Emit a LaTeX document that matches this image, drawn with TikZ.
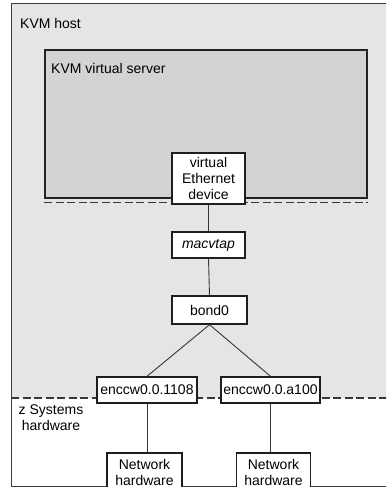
\documentclass[tikz,border=0pt]{standalone}
\usepackage{fontspec}
\setmainfont{Liberation Sans}
\begin{document}
\begin{tikzpicture}[x=1pt,y=-1pt,
  every node/.style={font=\fontsize{14}{16}\selectfont},
  hostfill/.style={fill={rgb,255:red,229;green,229;blue,231}},
  vsfill/.style={fill={rgb,255:red,210;green,211;blue,213}},
  frame/.style={draw={rgb,255:red,60;green,60;blue,60},line width=1pt},
  devbox/.style={draw={rgb,255:red,30;green,30;blue,30},line width=1.4pt,fill=white,
    inner sep=0pt,align=center},
  link/.style={draw={rgb,255:red,55;green,55;blue,55},line width=0.9pt},
  divider/.style={draw={rgb,255:red,55;green,55;blue,55},line width=1.6pt,
    dash pattern=on 8pt off 3.5pt},
  caption/.style={inner sep=0pt}]
\useasboundingbox (0,0) rectangle (386,487);
\clip (0,0) rectangle (386,487);

% KVM host area with the hardware strip below it
\fill[hostfill] (11,4) rectangle (392,398);
\fill[white] (11,398) rectangle (392,486);
\draw[frame] (11,4) rectangle (392,486);
\coordinate (hl) at (11,398);
\coordinate (hr) at (392,398);
\draw[divider] (hl) -- (hr);
\node[caption,anchor=base west] (host) at (20,29) {KVM host};
\node[caption,align=center] (zsys) at (51,417.5) {z Systems\\hardware};

% KVM virtual server
\node[vsfill,draw={rgb,255:red,35;green,35;blue,35},line width=1.6pt,
  minimum width=322pt,minimum height=148pt,inner sep=0pt] (vs) at (206,124) {};
\draw[divider] ([yshift=-3.5pt]vs.south west) -- ([yshift=-3.5pt]vs.south east);
\node[caption,anchor=base west] (vslabel) at (51,74) {KVM virtual server};

% devices
\node[devbox,minimum width=73pt,minimum height=51pt] (ved) at (208.5,178.5)
  {virtual\\Ethernet\\device};
\node[devbox,minimum width=73pt,minimum height=26pt] (mac) at (208.5,245)
  {\itshape macvtap};
\node[devbox,minimum width=75pt,minimum height=28pt] (bond) at (209.5,310) {bond0};
\node[devbox,minimum width=100pt,minimum height=26pt] (e1) at (147,390) {enccw0.0.1108};
\node[devbox,minimum width=99pt,minimum height=26pt] (e2) at (270.5,390) {enccw0.0.a100};
\node[devbox,minimum width=75pt,minimum height=38pt] (n1) at (144.5,472) {Network\\hardware};
\node[devbox,minimum width=74pt,minimum height=38pt] (n2) at (273.5,472) {Network\\hardware};

% connections
\draw[link] (ved.south) -- (mac.north);
\draw[link] (mac.south) -- (bond.north);
\draw[link] (bond.south) -- (e1.north);
\draw[link] (bond.south) -- (e2.north);
\draw[link] (e1.south) -- (e1.south |- n1.north);
\draw[link] (e2.south) -- (e2.south |- n2.north);
\end{tikzpicture}
\end{document}
